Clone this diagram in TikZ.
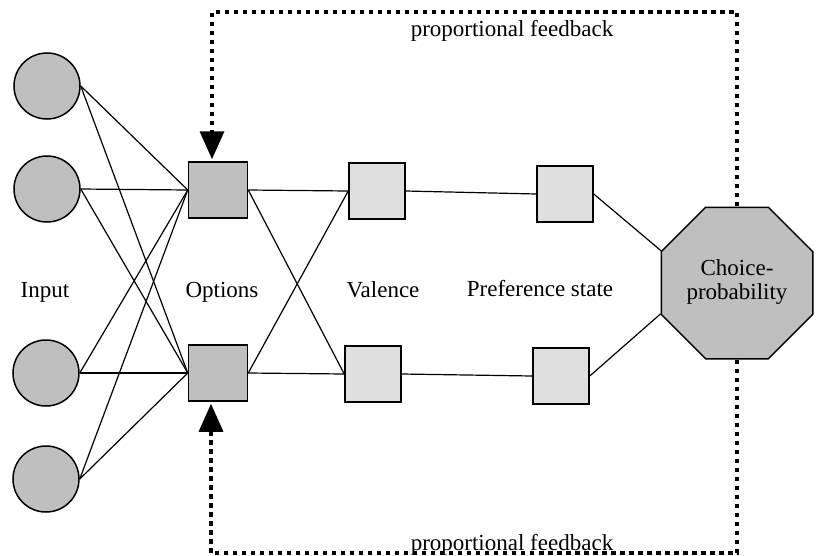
\documentclass[tikz,border=0pt]{standalone}
\usepackage{fontspec}
\setmainfont{Liberation Serif}
\usetikzlibrary{shapes.geometric,arrows.meta}
\begin{document}
\begin{tikzpicture}[x=1pt,y=-1pt,
        unit/.style={circle,draw,line width=1.5pt,fill=gray!50,minimum size=66pt,inner sep=0pt},
        option/.style={rectangle,draw,line width=1.5pt,fill=gray!50,minimum width=59pt,minimum height=56pt,inner sep=0pt},
        stage/.style={rectangle,draw,line width=1.5pt,fill=gray!25,minimum size=56pt,inner sep=0pt},
        outcome/.style={regular polygon,regular polygon sides=8,draw,line width=1.5pt,fill=gray!50,minimum size=164pt,inner sep=0pt},
        link/.style={line width=1.2pt},
        feedback/.style={line width=3.4pt,dash pattern=on 4.5pt off 4.5pt,-{Triangle[width=24pt,length=28pt]},shorten >=2pt},
        txt/.style={font=\fontsize{23}{24}\selectfont}]
        \useasboundingbox (0,0) rectangle (816,555);
        % input layer
        \node [unit] (in1) at (47,86) {};
        \node [unit] (in2) at (47,189) {};
        \node [unit] (in3) at (46,373) {};
        \node [unit] (in4) at (46,479) {};
        % options, valences, preference states
        \node [option] (opt1) at (218,190) {};
        \node [option] (opt2) at (218,373) {};
        \node [stage] (val1) at (377,191) {};
        \node [stage] (val2) at (373,374) {};
        \node [stage] (pref1) at (565,194) {};
        \node [stage] (pref2) at (561,376) {};
        \node [outcome,txt] (choice) at (737,283)
            {\raisebox{-7pt}{\begin{tabular}{@{}c@{}}Choice-\\probability\end{tabular}}};
        % layer names
        \node [txt,anchor=base] (lblin) at (45,297) {Input};
        \node [txt,anchor=base] (lblopt) at (222,297) {Options};
        \node [txt,anchor=base] (lblval) at (383,297) {Valence};
        \node [txt,anchor=base] (lblpref) at (540,296) {Preference state};
        % connections
        \foreach \i in {in1,in2,in3,in4}
            \foreach \o in {opt1,opt2}
                \draw [link] (\i.east) -- (\o.west);
        \foreach \o in {opt1,opt2}
            \foreach \v in {val1,val2}
                \draw [link] (\o.east) -- (\v.west);
        \draw [link] (val1.east) -- (pref1.west);
        \draw [link] (val2.east) -- (pref2.west);
        \draw [link] (pref1.east) -- (choice.157.5);
        \draw [link] (pref2.east) -- (choice.202.5);
        % feedback loops
        \coordinate (topleft) at (212,12);
        \coordinate (botleft) at (211,553);
        \draw [feedback] (choice.north) |- (topleft) -- (topleft |- opt1.north);
        \draw [feedback] (choice.south) |- (botleft) -- (botleft |- opt2.south);
        \node [txt,anchor=base] (fbtop) at (512,36) {proportional feedback};
        \node [txt,anchor=base] (fbbot) at (512,550) {proportional feedback};
    \end{tikzpicture}
\end{document}
